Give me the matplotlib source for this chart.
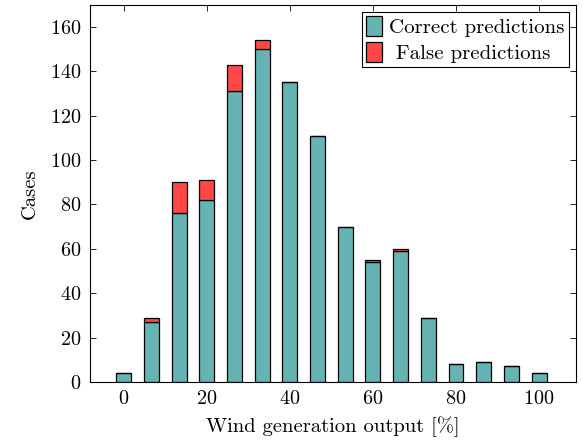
import matplotlib
matplotlib.use("Agg")
import matplotlib.pyplot as plt
import numpy as np

positions = [0, 100/15, 200/15, 20, 400/15, 500/15, 40, 700/15, 800/15, 60,
             1000/15, 1100/15, 80, 1300/15, 1400/15, 100]
correct = [4, 27, 76, 82, 131, 150, 135, 111, 70, 54, 59, 29, 8, 9, 7, 4]
false = [0, 2, 14, 9, 12, 4, 0, 0, 0, 1, 1, 0, 0, 0, 0, 0]
xticks = [0, 20, 40, 60, 80, 100]
yticks = [0, 20, 40, 60, 80, 100, 120, 140, 160]

plt.rcParams['font.family'] = 'serif'
plt.rcParams['font.serif'] = ['cmr10']
plt.rcParams['mathtext.fontset'] = 'cm'
plt.rcParams['axes.formatter.use_mathtext'] = True

fig = plt.figure(figsize=(5.83, 4.41), dpi=100)
ax = fig.add_axes([0.154, 0.134, 0.834, 0.855])

teal = '#66b3b3'
red = '#ff4747'
ax.bar(positions, correct, width=3.6, color=teal, edgecolor='black', linewidth=0.9,
       label='Correct predictions', zorder=2)
ax.bar(positions, false, width=3.6, bottom=correct, color=red, edgecolor='black',
       linewidth=0.9, label=' False predictions', zorder=2)

ax.set_xlim(-8.2, 108.9)
ax.set_ylim(0, 170)
ax.set_xticks(xticks)
ax.set_yticks(yticks)
ax.tick_params(direction='in', top=True, right=True, labelsize=14.5, length=4.5, width=0.6,
               pad=6)
for s in ax.spines.values():
    s.set_linewidth(0.8)
ax.set_xlabel('Wind generation output [%]', fontsize=14.8, labelpad=6)
ax.set_ylabel('Cases', fontsize=14.8, labelpad=8)

leg = ax.legend(loc='upper right', fontsize=15, frameon=True, fancybox=False,
                edgecolor='black', framealpha=1, handlelength=0.75, handleheight=1.1,
                handletextpad=0.35, borderpad=0.2, labelspacing=0.2,
                borderaxespad=0.35)
leg.get_frame().set_linewidth(0.8)

fig.savefig('out.png', dpi=100)
